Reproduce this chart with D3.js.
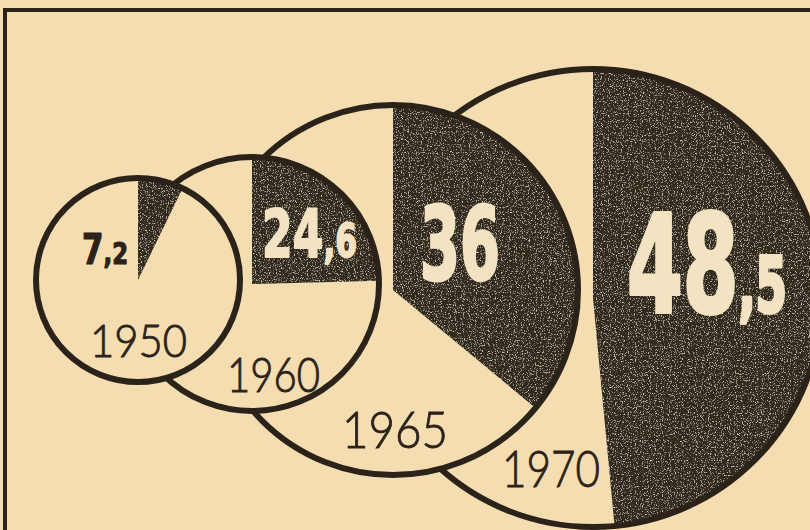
<!DOCTYPE html>
<html>
<head>
<meta charset="utf-8">
<script src="https://cdn.jsdelivr.net/npm/d3@7"></script>
<style>
  html, body { margin: 0; padding: 0; background: #f4ddb0; }
  svg { display: block; }
</style>
</head>
<body>
<svg id="chart" width="810" height="530"></svg>
<script>
// ---- data ----
const years = ["1950", "1960", "1965", "1970"];
const shares = [7.2, 24.6, 36, 48.5];          // percent (dark wedge)
const shareIntPart = ["7", "24", "36", "48"];
const shareDecPart = [",2", ",6", "", ",5"];

// ---- layout (not data) ----
const W = 810, H = 530;
const PAPER = "#f4ddb0", INK = "#2b221a", WEDGE = "#32291f", LIGHT = "#f3e3c2";
const cxScale = d3.scaleOrdinal(years, [138, 252, 393, 593]);
const cyScale = d3.scaleOrdinal(years, [280, 284, 290, 298]);
const rScale  = d3.scaleOrdinal(years, [102, 127, 185, 229]);
const angle = d3.scaleLinear([0, 100], [0, 2 * Math.PI]);

// label placement relative to each circle centre
const valLayout = [
  {dx: -56, dy: -16, w: 46,  big: 42,  small: 31, color: INK},
  {dx: 10,  dy: -27, w: 95,  big: 65,  small: 46, color: LIGHT},
  {dx: 27,  dy: -10, w: 80,  big: 101, small: 60, color: LIGHT},
  {dx: 34,  dy: 14,  w: 160, big: 135, small: 76, color: LIGHT}
];
const yearLayout = [
  {dx: -48, dy: 77,  w: 97,  size: 45},
  {dx: -25, dy: 108, w: 93,  size: 48},
  {dx: -51, dy: 158, w: 106, size: 52},
  {dx: -91, dy: 189, w: 98,  size: 51}
];

const svg = d3.select("#chart");
const defs = svg.append("defs");
const f = defs.append("filter").attr("id", "grain")
  .attr("x", "0%").attr("y", "0%").attr("width", "100%").attr("height", "100%");
f.append("feTurbulence").attr("type", "fractalNoise").attr("baseFrequency", 0.85)
  .attr("numOctaves", 2).attr("seed", 4).attr("result", "noise");
f.append("feColorMatrix").attr("in", "noise").attr("type", "matrix")
  .attr("values", "0 0 0 0 0.86  0 0 0 0 0.80  0 0 0 0 0.68  3.2 0 0 0 -1.8")
  .attr("result", "speck");
f.append("feComposite").attr("in", "speck").attr("in2", "SourceAlpha")
  .attr("operator", "in").attr("result", "speckIn");
const fm = f.append("feMerge");
fm.append("feMergeNode").attr("in", "SourceGraphic");
fm.append("feMergeNode").attr("in", "speckIn");

svg.append("rect").attr("width", W).attr("height", H).attr("fill", PAPER);

// frame (top and left rules)
svg.append("path")
  .attr("d", d3.line()([[5, H], [5, 10], [W, 10]]))
  .attr("fill", "none").attr("stroke", INK).attr("stroke-width", 4);

const items = years.map((y, i) => ({year: y, share: shares[i], i}));
const order = items.slice().reverse(); // largest at back

const arc = d3.arc().innerRadius(0);

const groups = svg.selectAll("g.pie").data(order).join("g")
  .attr("class", "pie")
  .attr("transform", d => `translate(${cxScale(d.year)},${cyScale(d.year)})`);

groups.append("circle")
  .attr("r", d => rScale(d.year))
  .attr("fill", PAPER);

groups.append("path")
  .attr("d", d => arc({outerRadius: rScale(d.year), startAngle: 0, endAngle: angle(d.share)}))
  .attr("fill", WEDGE)
  .attr("filter", "url(#grain)");

groups.append("circle")
  .attr("r", d => rScale(d.year))
  .attr("fill", "none")
  .attr("stroke", INK)
  .attr("stroke-width", 6);

// value labels
groups.each(function(d) {
  const g = d3.select(this);
  const L = valLayout[d.i];
  const t = g.append("text")
    .attr("font-family", "'Liberation Sans Narrow', 'DejaVu Sans Condensed', 'Roboto', sans-serif")
    .attr("font-weight", 700)
    .attr("fill", L.color)
    .attr("stroke", L.color)
    .attr("stroke-width", L.big / 36)
    .attr("stroke-linejoin", "round");
  t.append("tspan").attr("font-size", L.big).text(shareIntPart[d.i]);
  if (shareDecPart[d.i]) t.append("tspan").attr("font-size", L.small).text(shareDecPart[d.i]);
  const bb = t.node().getBBox();
  const sx = L.w / bb.width;
  t.attr("transform", `translate(${L.dx - bb.x * sx},${L.dy}) scale(${sx},1)`);

  const Y = yearLayout[d.i];
  const yt = g.append("text")
    .attr("font-family", "Lato, 'Open Sans', 'DejaVu Sans', sans-serif")
    .attr("font-weight", 300)
    .attr("font-size", Y.size)
    .attr("fill", INK)
    .attr("stroke", INK)
    .attr("stroke-width", 0.9)
    .text(d.year);
  const yb = yt.node().getBBox();
  const ysx = Y.w / yb.width;
  yt.attr("transform", `translate(${Y.dx - yb.x * ysx},${Y.dy}) scale(${ysx},1)`);
});
</script>
</body>
</html>
